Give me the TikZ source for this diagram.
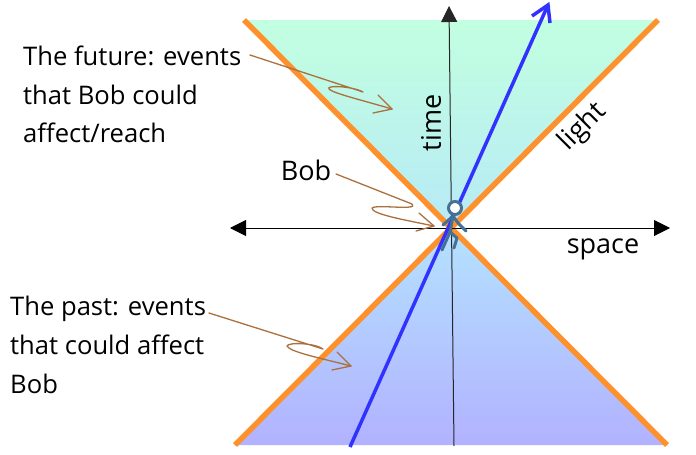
\documentclass[tikz,border=0pt]{standalone}
\usepackage{fontspec}
\setmainfont{Open Sans}
\usetikzlibrary{arrows.meta}
\definecolor{conetop}{RGB}{194,255,224}
\definecolor{conemid}{RGB}{183,234,246}
\definecolor{conelow}{RGB}{180,226,255}
\definecolor{conebot}{RGB}{178,178,255}
\definecolor{lightline}{RGB}{255,145,45}
\definecolor{wlblue}{RGB}{50,50,255}
\definecolor{notebrown}{RGB}{170,112,62}
\definecolor{bobblue}{RGB}{70,112,150}
\tikzset{
  label text/.style={inner sep=0pt,font=\fontsize{25.6}{38.8}\selectfont,align=left,text=black},
  axis text/.style={inner sep=0pt,font=\fontsize{27}{32}\selectfont,text=black},
  lightray/.style={draw=lightline,line width=5.5pt},
  axis line/.style={draw=black,line width=1pt,{Triangle[length=16pt,width=16pt]}-{Triangle[length=16pt,width=16pt]}},
  time line/.style={draw=black!85,line width=1pt,-{Triangle[length=16pt,width=16pt]}},
  worldline/.style={draw=wlblue,line width=3.5pt},
  note/.style={draw=notebrown,line width=1.3pt,line cap=round,line join=round},
  bobpart/.style={draw=bobblue,line width=3pt,line cap=round,line join=round},
}
\begin{document}
\begin{tikzpicture}[x=1pt,y=-1pt]
\useasboundingbox (0,0) rectangle (696,455);
% coordinates
\coordinate (fl) at (244,20);
\coordinate (fr) at (658,20);
\coordinate (pl) at (235,445);
\coordinate (pr) at (667,445);
\coordinate (apex) at (451.5,227.5);
% cones
\path[top color=conetop,bottom color=conemid] (fl) -- (fr) -- (apex) -- cycle;
\path[top color=conelow,bottom color=conebot] (apex) -- (pr) -- (pl) -- cycle;
% light rays
\draw[lightray] (fl) -- (pr);
\draw[lightray] (fr) -- (pl);
% axes
\coordinate (sl) at (230,228);
\coordinate (sr) at (670,228);
\draw[axis line] (sl) -- (sr);
\coordinate (tb) at (454,446);
\coordinate (tt) at (449,6);
\draw[time line] (tb) -- (tt);
% world line
\coordinate (wb) at (350,447);
\coordinate (wt) at (548,5);
\coordinate (wa) at (532,16);
\coordinate (wc) at (550,23);
\draw[worldline] (wb) -- (wt);
\draw[worldline,line join=miter] (wa) -- (wt) -- (wc);
% Bob
\coordinate (neck) at (453,216);
\coordinate (hip) at (450,232);
\coordinate (handl) at (443,225);
\coordinate (elbow) at (458,223);
\coordinate (handr) at (466,231);
\coordinate (footl) at (442,250);
\coordinate (knee) at (457,238);
\coordinate (footr) at (454,248);
\draw[bobpart] (handl) -- (neck) -- (elbow) -- (handr);
\draw[bobpart] (footl) -- (hip) -- (neck);
\draw[bobpart] (hip) -- (knee) -- (footr);
\node[circle,draw=bobblue,fill=white,line width=3pt,minimum size=13pt,inner sep=0pt] (head) at (455,208) {};
% annotations
\coordinate (a1) at (250,55);
\coordinate (a2) at (363,92);
\coordinate (a3) at (329,89);
\coordinate (a4) at (392,109);
\coordinate (a5) at (378,95);
\coordinate (a6) at (373,113);
\draw[note] (a1) -- (a2) .. controls (352,86) and (325,85) .. (a3) .. controls (332,93) and (365,101) .. (a4);
\draw[note] (a5) -- (a4) -- (a6);
\coordinate (b1) at (336,174);
\coordinate (b2) at (412,204);
\coordinate (b3) at (372,208);
\coordinate (b4) at (434,226);
\coordinate (b5) at (419,213);
\coordinate (b6) at (416,231);
\draw[note] (b1) -- (b2) .. controls (420,211) and (376,204) .. (b3) .. controls (371,214) and (405,220) .. (b4);
\draw[note] (b5) -- (b4) -- (b6);
\coordinate (c1) at (209,313);
\coordinate (c2) at (323,349);
\coordinate (c3) at (287,346);
\coordinate (c4) at (351,366);
\coordinate (c5) at (337,352);
\coordinate (c6) at (332,370);
\draw[note] (c1) -- (c2) .. controls (315,343) and (288,342) .. (c3) .. controls (290,352) and (320,358) .. (c4);
\draw[note] (c5) -- (c4) -- (c6);
% labels
\node[label text,anchor=north west] (future) at (23,45.5) {The future: events\\that Bob could\\affect/reach};
\node[label text,anchor=north west] (past) at (10,296) {The past: events\\that could affect\\Bob};
\node[axis text,anchor=center] (bob) at (306,170) {Bob};
\node[axis text,anchor=center,rotate=90] (time) at (431,123) {time};
\node[axis text,anchor=center,rotate=45] (light) at (583,127) {light};
\node[axis text,anchor=center] (space) at (603,249) {space};
\end{tikzpicture}
\end{document}
